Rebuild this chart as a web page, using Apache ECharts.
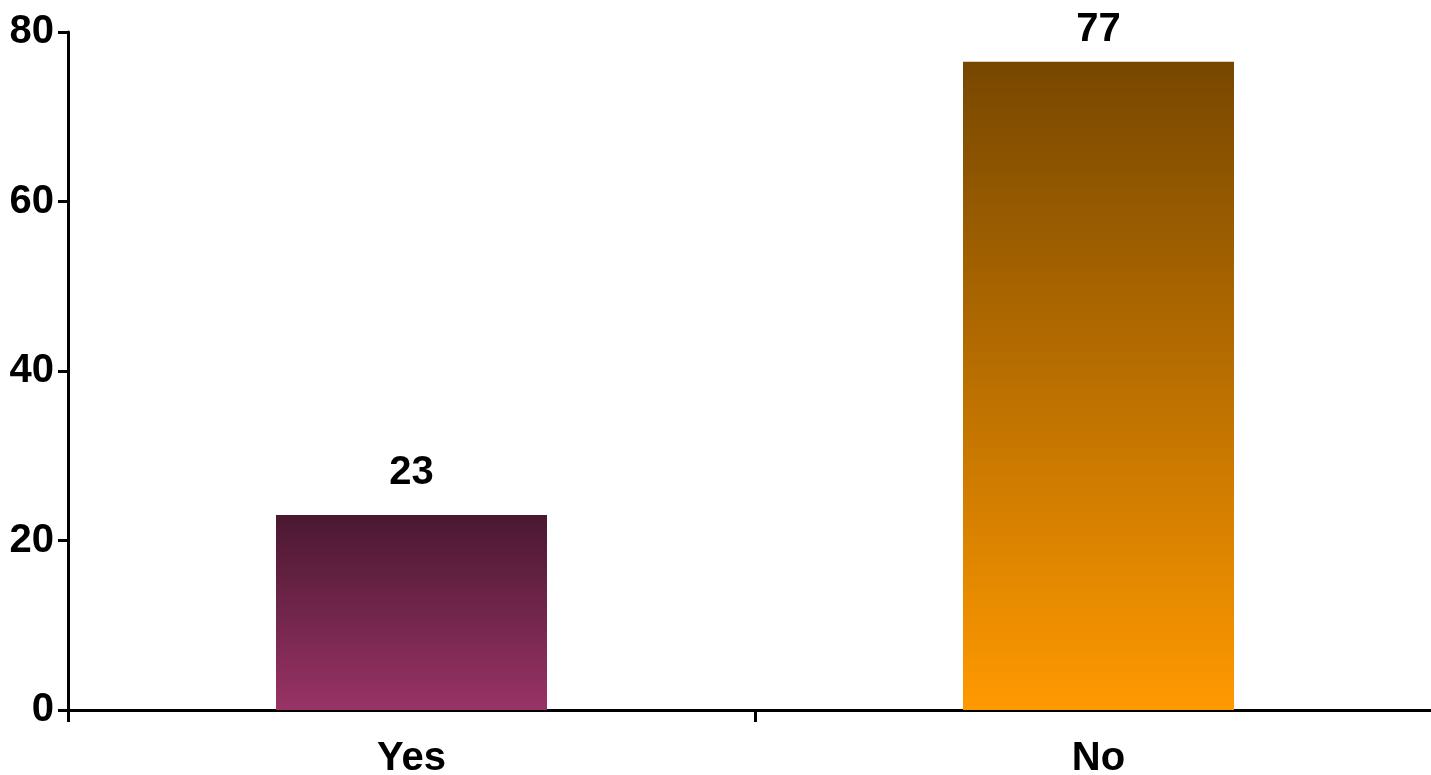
<!DOCTYPE html>
<html><head><meta charset="utf-8">
<script src="https://cdn.jsdelivr.net/npm/echarts@6/dist/echarts.min.js"></script>
<style>html,body{margin:0;padding:0;background:#fff}#c{width:1431px;height:775px}</style>
</head><body><div id="c"></div>
<script>
const categories = ['Yes', 'No'];
const values = [23, 76.5];
const yTicks = [0, 20, 40, 60, 80];

const gradients = [
  ['#4a1830', '#993366'],
  ['#774700', '#ff9900']
];
const labelGaps = [22, 12];
const FONT = '"Liberation Sans Narrow", "Liberation Sans", Arial, sans-serif';
const chart = echarts.init(document.getElementById('c'), null, {renderer: 'canvas'});
chart.setOption({
  animation: false,
  grid: {left: 68, width: 1374, top: 32, bottom: 65, containLabel: false, outerBoundsMode: 'none'},
  xAxis: {
    type: 'category', data: categories,
    axisLine: {lineStyle: {color: '#000', width: 3}},
    axisTick: {show: true, length: 12, lineStyle: {color: '#000', width: 3}},
    axisLabel: {color: '#000', fontSize: 40, fontWeight: 'bold', fontFamily: FONT, margin: 29}
  },
  yAxis: {
    type: 'value', min: yTicks[0], max: yTicks[yTicks.length - 1], interval: 20,
    splitLine: {show: false},
    axisLine: {show: true, lineStyle: {color: '#000', width: 3}},
    axisTick: {show: true, length: 10, lineStyle: {color: '#000', width: 3}},
    axisLabel: {color: '#000', fontSize: 40, fontWeight: 'bold', fontFamily: FONT, margin: 14}
  },
  series: [{
    type: 'bar', barWidth: 271,
    data: values.map((v, i) => ({
      value: v,
      label: {distance: labelGaps[i]},
      itemStyle: {color: new echarts.graphic.LinearGradient(0, 0, 0, 1, [
        {offset: 0, color: gradients[i][0]}, {offset: 1, color: gradients[i][1]}])}
    })),
    label: {show: true, position: 'top', color: '#000', fontSize: 40,
      fontWeight: 'bold', fontFamily: FONT, formatter: p => Math.round(p.value)}
  }]
});
</script></body></html>
